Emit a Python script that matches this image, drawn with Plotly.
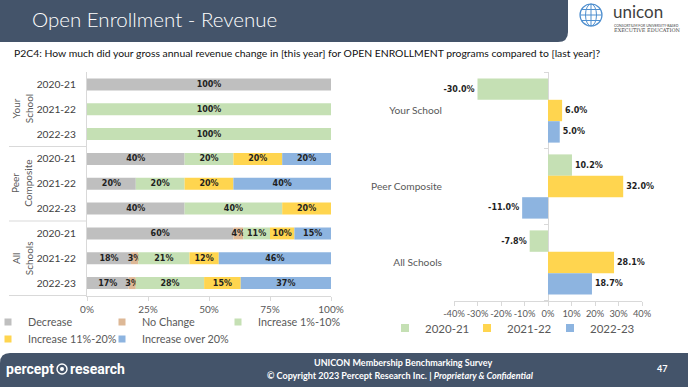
import plotly.graph_objects as go

W, H = 688, 387

# ---------------- data ----------------
groups = ["Your School", "Peer Composite", "All Schools"]
group_labels = ["Your<br>School", "Peer<br>Composite", "All<br>Schools"]
years = ["2020-21", "2021-22", "2022-23"]

decrease    = [100, 0, 0, 40, 20, 40, 60, 18, 17]
no_change   = [0, 0, 0, 0, 0, 0, 4, 3, 3]
inc_1_10    = [0, 100, 100, 20, 20, 40, 11, 21, 28]
inc_11_20   = [0, 0, 0, 20, 20, 20, 10, 12, 15]
inc_over_20 = [0, 0, 0, 20, 40, 0, 15, 46, 37]

response_names = ["Decrease", "No Change", "Increase 1%-10%",
                  "Increase 11%-20%", "Increase over 20%"]
share_ticks = [0, 25, 50, 75, 100]
share_tick_labels = ["0%", "25%", "50%", "75%", "100%"]

rev_2020_21 = [-30.0, 10.2, -7.8]
rev_2021_22 = [6.0, 32.0, 28.1]
rev_2022_23 = [5.0, -11.0, 18.7]
rev_ticks = [-40, -30, -20, -10, 0, 10, 20, 30, 40]
rev_tick_labels = ["-40%", "-30%", "-20%", "-10%", "0%", "10%", "20%", "30%", "40%"]

# ---------------- style ----------------
C_DEC, C_NC, C_I1, C_I2, C_I3 = "#BFBFBF", "#DDB896", "#C5E0B4", "#FFD54F", "#8DB4E0"
NAVY = "#44546A"
AX = "#D9D9D9"
TXT = "#595959"
LBL = "#1E1E1E"
FONT = "Lato, 'Open Sans', sans-serif"
LFONT = "'DejaVu Sans', Verdana, sans-serif"
LOGOFONT = "Roboto, 'Liberation Sans', sans-serif"


def fx(px):
    return px / W


def fy(py):
    return 1 - py / H


rows = [f"{g} | {y}" for g in groups for y in years]
row_ticks = [y for _ in groups for y in years]

fig = go.Figure()

# ---- left: stacked distribution (manual stacking via base) ----
series = [decrease, no_change, inc_1_10, inc_11_20, inc_over_20]
colors = [C_DEC, C_NC, C_I1, C_I2, C_I3]
base = [0] * len(rows)
for name, vals, col in zip(response_names, series, colors):
    fig.add_trace(go.Bar(
        y=rows, x=vals, base=list(base), orientation="h",
        marker=dict(color=col, line=dict(width=0)),
        width=0.48, offsetgroup="stack",
        text=[f"{v}%" if v else "" for v in vals],
        textposition="inside", insidetextanchor="middle", textangle=0,
        constraintext="none",
        textfont=dict(family=LFONT, size=8, color=LBL, weight="bold"),
        name=name, showlegend=False, hoverinfo="skip",
        xaxis="x", yaxis="y",
    ))
    base = [b + v for b, v in zip(base, vals)]

# one-entry legends (left chart), each placed at its own spot
left_legend_pos = [(28, 322), (142, 322), (258, 322), (28, 339), (142, 339)]
legend_layouts = {}
for i, (name, col) in enumerate(zip(response_names, colors)):
    lid = "legend" if i == 0 else f"legend{i + 1}"
    fig.add_trace(go.Scatter(
        x=[None], y=[None], mode="markers",
        marker=dict(symbol="square", size=7, color=col),
        name=name, legend=lid, xaxis="x", yaxis="y", hoverinfo="skip",
    ))
    tx, ty = left_legend_pos[i]
    legend_layouts[lid] = dict(
        orientation="h", x=fx(tx - 40), y=fy(ty), xanchor="left", yanchor="middle",
        itemwidth=30, font=dict(family=FONT, size=10.8, color=TXT),
        bgcolor="rgba(0,0,0,0)")

# ---- right: grouped revenue change ----
rev_series = [rev_2020_21, rev_2021_22, rev_2022_23]
rev_colors = [C_I1, C_I2, C_I3]
for yr, vals, col in zip(years, rev_series, rev_colors):
    fig.add_trace(go.Bar(
        y=groups, x=vals, orientation="h",
        marker=dict(color=col, line=dict(width=0)),
        text=[f"{v:.1f}%" for v in vals],
        textposition="outside", constraintext="none", cliponaxis=False,
        textfont=dict(family=LFONT, size=8, color=LBL, weight="bold"),
        name=yr, showlegend=False, hoverinfo="skip",
        xaxis="x2", yaxis="y2",
    ))
right_legend_pos = [(425, 328), (507, 328), (590, 328)]
for j, (yr, col) in enumerate(zip(years, rev_colors)):
    lid = f"legend{6 + j}"
    fig.add_trace(go.Scatter(
        x=[None], y=[None], mode="markers",
        marker=dict(symbol="square", size=8, color=col),
        name=yr, legend=lid, xaxis="x2", yaxis="y2", hoverinfo="skip",
    ))
    tx, ty = right_legend_pos[j]
    legend_layouts[lid] = dict(
        orientation="h", x=fx(tx - 40), y=fy(ty), xanchor="left", yanchor="middle",
        itemwidth=30, font=dict(family=FONT, size=11.5, color=TXT),
        bgcolor="rgba(0,0,0,0)")

shapes = []
# header bar with rounded bottom-right corner
shapes.append(dict(
    type="path", xref="paper", yref="paper", layer="below",
    path=(f"M0,{fy(0)} L{fx(568)},{fy(0)} L{fx(568)},{fy(32)} "
          f"Q{fx(568)},{fy(42)} {fx(558)},{fy(42)} L0,{fy(42)} Z"),
    fillcolor=NAVY, line=dict(width=0)))
# footer bar with rounded top-left corner
shapes.append(dict(
    type="path", xref="paper", yref="paper", layer="below",
    path=(f"M0,{fy(387)} L0,{fy(363)} Q0,{fy(353)} {fx(10)},{fy(353)} "
          f"L{fx(688)},{fy(353)} L{fx(688)},{fy(387)} Z"),
    fillcolor=NAVY, line=dict(width=0)))
# globe logo
GL = "#4F8FCF"
shapes += [
    dict(type="circle", xref="paper", yref="paper", x0=fx(580), x1=fx(602),
         y0=fy(26), y1=fy(4), line=dict(color=GL, width=1.2)),
    dict(type="circle", xref="paper", yref="paper", x0=fx(585.5), x1=fx(596.5),
         y0=fy(26), y1=fy(4), line=dict(color=GL, width=1)),
    dict(type="line", xref="paper", yref="paper", x0=fx(591), x1=fx(591),
         y0=fy(26), y1=fy(4), line=dict(color=GL, width=1)),
    dict(type="line", xref="paper", yref="paper", x0=fx(580), x1=fx(602),
         y0=fy(15), y1=fy(15), line=dict(color=GL, width=1)),
    dict(type="line", xref="paper", yref="paper", x0=fx(582), x1=fx(600),
         y0=fy(9.5), y1=fy(9.5), line=dict(color=GL, width=1)),
    dict(type="line", xref="paper", yref="paper", x0=fx(582), x1=fx(600),
         y0=fy(20.5), y1=fy(20.5), line=dict(color=GL, width=1)),
]
# percept research logo circle
shapes.append(dict(type="circle", xref="paper", yref="paper",
                   x0=fx(57), x1=fx(67), y0=fy(374), y1=fy(364),
                   line=dict(color="white", width=1.4)))
shapes.append(dict(type="circle", xref="paper", yref="paper",
                   x0=fx(60), x1=fx(64), y0=fy(371), y1=fy(367),
                   fillcolor="white", line=dict(width=0)))
# left multilevel category separators
for b in [2.5, 5.5, 8.5]:
    shapes.append(dict(type="line", xref="paper", yref="y",
                       x0=fx(9), x1=fx(87), y0=b, y1=b,
                       line=dict(color=AX, width=1)))
# right: boundary ticks on the zero axis
for b in [-0.5, 0.5, 1.5, 2.5]:
    shapes.append(dict(type="line", xref="x2", yref="y2", xsizemode="pixel",
                       xanchor=0, x0=-4, x1=0, y0=b, y1=b,
                       line=dict(color=AX, width=1)))

annotations = [
    dict(text="Open Enrollment - Revenue", x=fx(30), y=fy(19), xref="paper", yref="paper",
         xanchor="left", yanchor="middle", showarrow=False,
         font=dict(family=FONT, size=20.5, color="white", weight=300)),
    dict(text="P2C4: How much did your gross annual revenue change in [this year] for OPEN ENROLLMENT programs compared to [last year]?",
         x=fx(12), y=fy(53), xref="paper", yref="paper", xanchor="left", yanchor="middle",
         showarrow=False, font=dict(family=FONT, size=10.4, color="#111111")),
    dict(text="unicon", x=fx(611), y=fy(11.5), xref="paper", yref="paper",
         xanchor="left", yanchor="middle", showarrow=False,
         font=dict(family=FONT, size=17, color="#3F3F3F")),
    dict(text="CONSORTIUM FOR UNIVERSITY-BASED", x=fx(612), y=fy(25.5), xref="paper", yref="paper",
         xanchor="left", yanchor="middle", showarrow=False,
         font=dict(family=FONT, size=3.5, color="#3F3F3F")),
    dict(text="EXECUTIVE EDUCATION", x=fx(612), y=fy(30.5), xref="paper", yref="paper",
         xanchor="left", yanchor="middle", showarrow=False,
         font=dict(family="'DejaVu Serif', serif", size=5, color="#3F3F3F")),
    dict(text="<b>percept</b>", x=fx(56), y=fy(369), xref="paper", yref="paper",
         xanchor="right", yanchor="middle", showarrow=False,
         font=dict(family=LOGOFONT, size=14, color="white")),
    dict(text="<b>research</b>", x=fx(68), y=fy(369), xref="paper", yref="paper",
         xanchor="left", yanchor="middle", showarrow=False,
         font=dict(family=LOGOFONT, size=14, color="white")),
    dict(text="<b>UNICON Membership Benchmarking Survey</b>", x=fx(403), y=fy(362),
         xref="paper", yref="paper", xanchor="center", yanchor="middle", showarrow=False,
         font=dict(family=FONT, size=9, color="white")),
    dict(text="<b>© Copyright 2023 Percept Research Inc. | <i>Proprietary & Confidential</i></b>",
         x=fx(400), y=fy(375), xref="paper", yref="paper", xanchor="center", yanchor="middle",
         showarrow=False, font=dict(family=FONT, size=9, color="white")),
    dict(text="<b>47</b>", x=fx(662), y=fy(368), xref="paper", yref="paper",
         xanchor="center", yanchor="middle", showarrow=False,
         font=dict(family=FONT, size=9, color="white")),
]
for gi, gl in enumerate(group_labels):
    annotations.append(dict(
        text=gl, x=fx(22), xref="paper", y=rows[gi * 3 + 1], yref="y",
        xanchor="center", yanchor="middle", textangle=-90, showarrow=False,
        font=dict(family=FONT, size=10, color=TXT)))

fig.update_layout(
    width=W, height=H, margin=dict(l=0, r=0, t=0, b=0, pad=0, autoexpand=False),
    paper_bgcolor="white", plot_bgcolor="rgba(0,0,0,0)",
    barmode="group", bargap=0.155, bargroupgap=0,
    font=dict(family=FONT, color=TXT),
    shapes=shapes, annotations=annotations,
    xaxis=dict(domain=[fx(87), fx(331)], range=[0, 100], tickvals=share_ticks,
               ticktext=share_tick_labels, showgrid=False, zeroline=False,
               showline=True, linecolor=AX, linewidth=1, automargin=False,
               ticks="outside", ticklen=4, tickcolor=AX, tickangle=0,
               tickfont=dict(family=FONT, size=10, color=TXT), anchor="y"),
    yaxis=dict(domain=[fy(296), fy(72)], type="category", categoryorder="array",
               categoryarray=rows, autorange="reversed", tickmode="array",
               tickvals=rows, ticktext=row_ticks, showgrid=False, zeroline=False,
               showline=True, linecolor=AX, linewidth=1, ticks="", automargin=False,
               ticklabelstandoff=8, tickfont=dict(family=FONT, size=10.2, color="#404040"),
               anchor="x"),
    xaxis2=dict(domain=[fx(454), fx(642)], range=[-40, 40], tickmode="array",
                tickvals=rev_ticks, ticktext=rev_tick_labels,
                showgrid=False, zeroline=True, zerolinecolor=AX,
                zerolinewidth=1, showline=True, linecolor=AX, linewidth=1,
                ticks="outside", ticklen=4, tickcolor=AX, automargin=False, tickangle=0,
                tickfont=dict(family=FONT, size=9.3, color=TXT), anchor="y2"),
    yaxis2=dict(domain=[fy(301), fy(72)], type="category", categoryorder="array",
                categoryarray=groups, autorange="reversed", showgrid=False,
                zeroline=False, showline=False, ticks="", ticklabelstandoff=11,
                automargin=False,
                tickfont=dict(family=FONT, size=10.2, color=TXT), anchor="x2"),
    **legend_layouts,
)

fig.write_html(
    "out.html",
    config={"displayModeBar": False},
    post_script="document.body.style.margin='0';document.body.style.padding='0';",
)
